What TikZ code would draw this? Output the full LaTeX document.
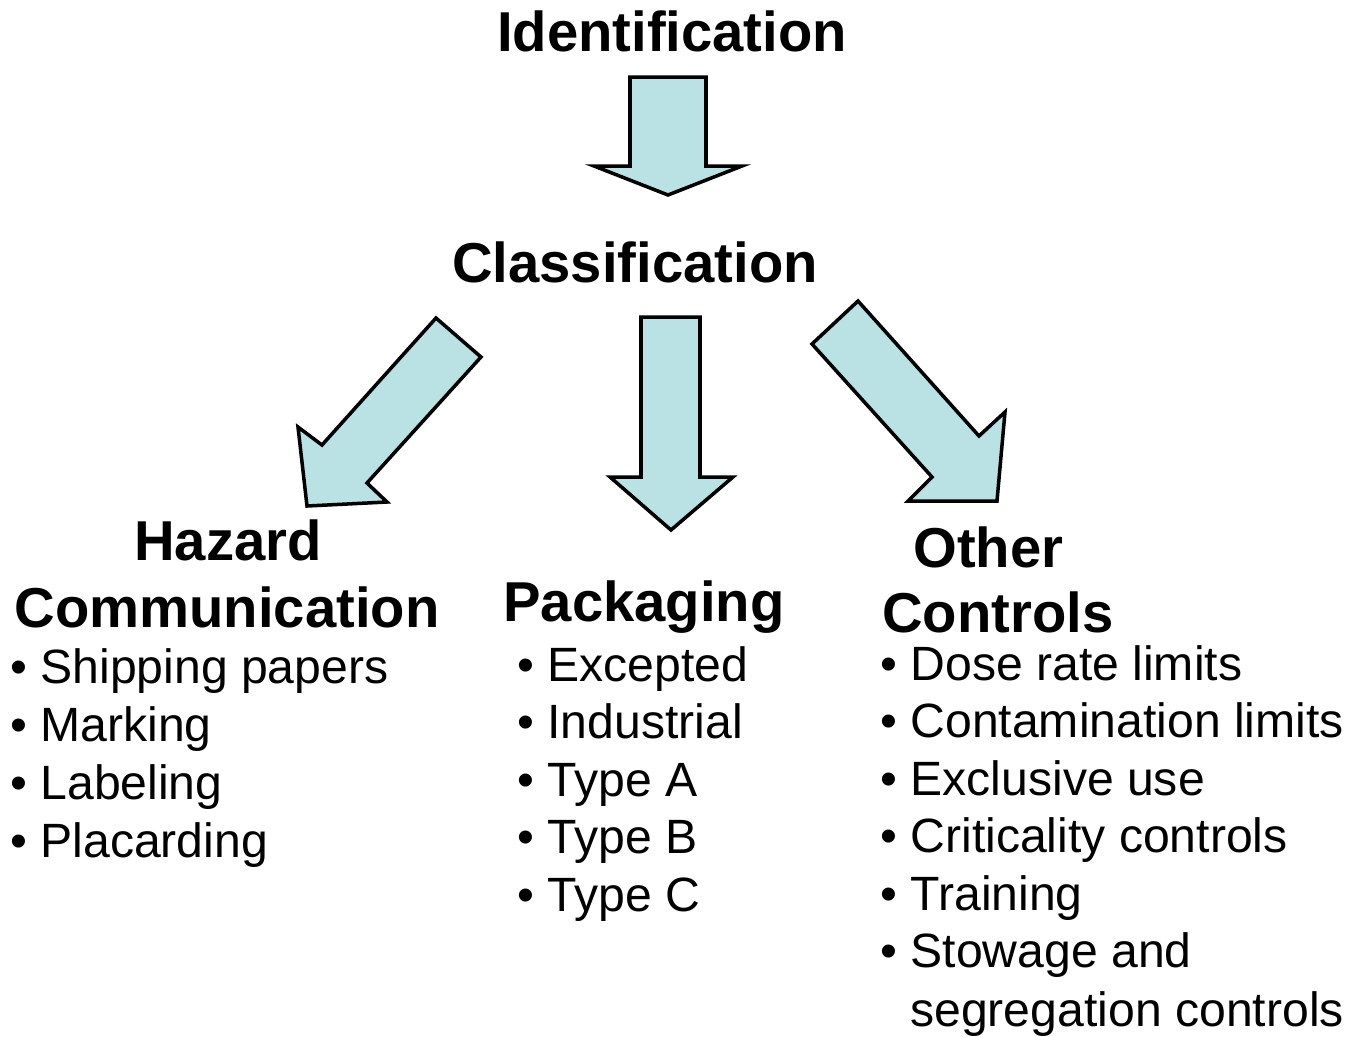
\documentclass[tikz,border=0pt]{standalone}
\usepackage{fontspec}
\setmainfont{Liberation Sans}
\definecolor{arrowfill}{HTML}{BAE1E3}
\tikzset{
  head/.style={font=\bfseries\fontsize{32}{37}\selectfont, inner sep=0pt, anchor=base},
  item/.style={font=\fontsize{27.4}{33}\selectfont, inner sep=0pt, anchor=base west},
  blockarrow/.style={draw=black, line width=2pt, fill=arrowfill}
}
\begin{document}
\begin{tikzpicture}[x=0.02cm, y=-0.02cm]
    \useasboundingbox (0,0) rectangle (1350,1036);
    % 标题
    \node[head] (ident) at (672,51) {Identification};
    \node[head] (classif) at (635,282) {Classification};
    
    % 箭头
    \draw[blockarrow] (630,77) -- (706,77) -- (706,166) -- (742,166) -- (668,195) -- (594,166) -- (630,166) -- cycle;
    \draw[blockarrow] (436,318) -- (481,357) -- (367,483) -- (387,502) -- (307,506) -- (298,427) -- (322,445) -- cycle;
    \draw[blockarrow] (641,317) -- (700,317) -- (700,477) -- (733,477) -- (671,530) -- (610,477) -- (641,477) -- cycle;
    \draw[blockarrow] (858,301) -- (979,436) -- (1005,412) -- (997,501) -- (908,501) -- (932,477) -- (812,344) -- cycle;
    
    % 三个分支
    \node[head] (hazard) at (228,560) {Hazard};
    \node[head] (comm) at (227,627) {Communication};
    \node[head] (pack) at (644,621) {Packaging};
    \node[head, anchor=base west] (other) at (913,567) {Other};
    \node[head, anchor=base west] (controls) at (882,632) {Controls};
    
    % 列表
    \foreach \t [count=\i] in {Shipping papers, Marking, Labeling, Placarding}
        \node[item] (haz\i) at (10,{683+58*(\i-1)}) {• \t};
    \foreach \t [count=\i] in {Excepted, Industrial, Type A, Type B, Type C}
        \node[item] (pk\i) at (517,{681+57.5*(\i-1)}) {• \t};
    \foreach \t [count=\i] in {Dose rate limits, Contamination limits, Exclusive use, Criticality controls, Training, Stowage and}
        \node[item] (ctl\i) at (880,{680+57.5*(\i-1)}) {• \t};
    \node[item] (ctl7) at (910,1026) {segregation controls};
\end{tikzpicture}
\end{document}
